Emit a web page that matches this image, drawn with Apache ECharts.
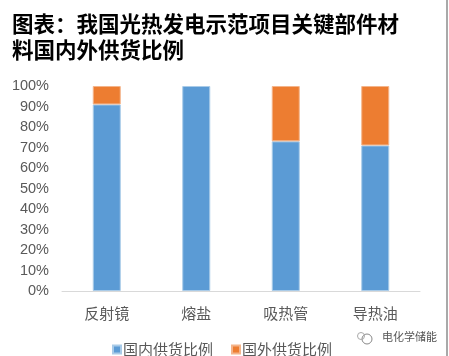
<!DOCTYPE html>
<html><head><meta charset="utf-8">
<style>html,body{margin:0;padding:0;background:#fff;overflow:hidden}#c{width:449px;height:356px}</style>
<script src="https://cdn.jsdelivr.net/npm/echarts@6/dist/echarts.min.js"></script>
</head><body><div id="c"></div>
<script>
const titleLines = ['图表：我国光热发电示范项目关键部件材','料国内外供货比例'];
const categories = ['反射镜','熔盐','吸热管','导热油'];
const domesticName = '国内供货比例';
const foreignName = '国外供货比例';
const domestic = [91,100,73,71];
const foreign = [9,null,27,29];
const tickStep = 10;
const watermark = '电化学储能';
const font = '"Noto Sans CJK SC","Liberation Sans",sans-serif';
const chart = echarts.init(document.getElementById('c'),null,{renderer:'canvas'});
const barStyle = c => ({color:c,borderColor:c==='#5b9bd5'?'#a9cbe8':'#f4b48a',borderWidth:1});
chart.setOption({
  animation:false,
  backgroundColor:'#fff',
  textStyle:{fontFamily:font},
  grid:{left:62,right:29,top:86,height:205,containLabel:false},
  xAxis:{type:'category',data:categories,
    axisLine:{lineStyle:{color:'#d9d9d9',width:1}},axisTick:{show:false},
    axisLabel:{color:'#595959',fontSize:15,margin:15,fontFamily:font}},
  yAxis:{type:'value',min:0,max:100,interval:tickStep,splitLine:{show:false},axisLine:{show:false},axisTick:{show:false},
    axisLabel:{color:'#595959',fontSize:14.5,margin:13,formatter:'{value}%',fontFamily:'"Liberation Sans",sans-serif'}},
  legend:{left:107,top:337,padding:[5,5,5,5],itemWidth:8,itemHeight:8,itemGap:18,icon:'rect',
    textStyle:{color:'#595959',fontSize:15,fontFamily:font,padding:[0,0,0,-3]},
    data:[domesticName,foreignName]},
  series:[
    {name:domesticName,type:'bar',stack:'s',data:domestic,barWidth:28,itemStyle:barStyle('#5b9bd5')},
    {name:foreignName,type:'bar',stack:'s',data:foreign,barWidth:28,itemStyle:barStyle('#ed7d31')}
  ],
  graphic:[
    {type:'text',left:12,top:13,style:{text:titleLines[0],fontSize:21.5,fontWeight:'bold',fill:'#000',fontFamily:font}},
    {type:'text',left:12,top:39,style:{text:titleLines[1],fontSize:21.5,fontWeight:'bold',fill:'#000',fontFamily:font}},
    {type:'text',left:382,top:331,style:{text:watermark,fontSize:11,fill:'#555',fontFamily:font}},
    {type:'circle',shape:{cx:367,cy:339,r:5},style:{fill:'none',stroke:'#888',lineWidth:1}},
    {type:'circle',shape:{cx:361,cy:336,r:3.5},style:{fill:'none',stroke:'#aaa',lineWidth:1}},
    {type:'line',shape:{x1:447,y1:0,x2:447,y2:356},style:{stroke:'#8c8c8c',lineWidth:1.5}}
  ]
});
</script></body></html>
